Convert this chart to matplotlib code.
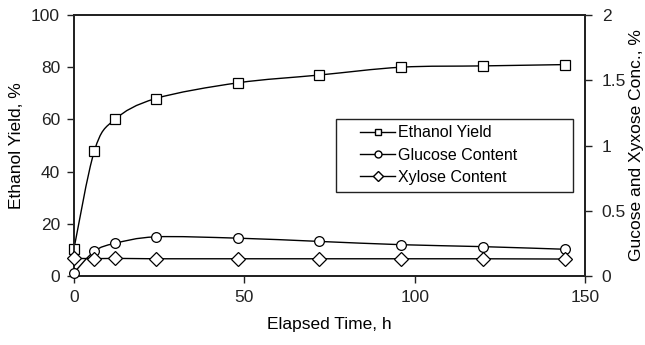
import matplotlib
matplotlib.use("Agg")
import matplotlib.pyplot as plt
import numpy as np
from matplotlib.path import Path
from matplotlib.patches import PathPatch, Rectangle
from matplotlib.lines import Line2D

plt.rcParams['font.family'] = ['Liberation Sans', 'DejaVu Sans']

hours = [0, 6, 12, 24, 48, 72, 96, 120, 144]
ethanol_yield = [10.5, 48, 60, 68, 74, 77, 80, 80.5, 81]
glucose = [0.025, 0.19, 0.25, 0.30, 0.29, 0.265, 0.24, 0.225, 0.205]
xylose = [0.135, 0.133, 0.135, 0.132, 0.132, 0.132, 0.132, 0.132, 0.13]

INK = "black"


def smooth_path(x, y, tension=1 / 6):
    """Catmull-Rom style bezier through points (like a spreadsheet 'smoothed line')."""
    x = np.asarray(x, float); y = np.asarray(y, float)
    pts = np.column_stack([x, y])
    verts = [pts[0]]
    codes = [Path.MOVETO]
    n = len(pts)
    for i in range(n - 1):
        p0 = pts[i - 1] if i > 0 else pts[i]
        p1 = pts[i]; p2 = pts[i + 1]
        p3 = pts[i + 2] if i + 2 < n else pts[i + 1]
        c1 = p1 + (p2 - p0) * tension
        c2 = p2 - (p3 - p1) * tension
        verts += [c1, c2, p2]
        codes += [Path.CURVE4] * 3
    return Path(verts, codes)


fig = plt.figure(figsize=(6.45, 3.45), dpi=100)
ax = fig.add_axes([0.1147, 0.2, 0.7923, 0.7565])
ax2 = ax.twinx()

ax.add_patch(PathPatch(smooth_path(hours, ethanol_yield), fill=False, edgecolor=INK, lw=1.0, zorder=2))
ax.plot(hours, ethanol_yield, ls="none", marker="s", ms=7, mfc="white", mec=INK, mew=0.9, zorder=3,
        clip_on=False)

ax2.add_patch(PathPatch(smooth_path(hours, glucose), fill=False, edgecolor=INK, lw=1.0, zorder=2))
ax2.plot(hours, glucose, ls="none", marker="o", ms=7, mfc="white", mec=INK, mew=0.9, zorder=3,
         clip_on=False)
ax2.plot(hours, xylose, ls="-", color=INK, lw=1.0, marker="D", ms=7, mfc="white", mec=INK, mew=0.9,
         zorder=3, clip_on=False)

ax.set_xlim(0, 150)
ax.set_ylim(0, 100)
ax2.set_ylim(0, 2)
ax.set_xticks([0, 50, 100, 150])
ax.set_yticks([0, 20, 40, 60, 80, 100])
ax2.set_yticks([0, 0.5, 1, 1.5, 2])
ax2.set_yticklabels(["0", "0.5", "1", "1.5", "2"])

for a in (ax, ax2):
    for s in a.spines.values():
        s.set_linewidth(1.3)
        s.set_color("#222222")
    a.tick_params(direction="out", length=5, width=1.0, labelsize=12.5, colors="#222222",
                  labelcolor="#222222", pad=5)
ax2.tick_params(axis="y", pad=7)

ax.set_xlabel("Elapsed Time, h", fontsize=12.5, labelpad=9)
ax.set_ylabel("Ethanol Yield, %", fontsize=12.5, labelpad=5)
ax2.set_ylabel("Gucose and Xyxose Conc., %", fontsize=12.5, labelpad=2)

# legend frame drawn separately (wide right margin, as in the source chart)
ax2.add_patch(Rectangle((0.513, 0.322), 0.464, 0.279, transform=ax2.transAxes, fill=True,
                        facecolor="white", edgecolor="#222222", lw=1.0, zorder=4))
handles = [
    Line2D([], [], color=INK, lw=1.0, marker="s", ms=5, mfc="white", mec=INK, label="Ethanol Yield"),
    Line2D([], [], color=INK, lw=1.0, marker="o", ms=5, mfc="white", mec=INK, label="Glucose Content"),
    Line2D([], [], color=INK, lw=1.0, marker="D", ms=5, mfc="white", mec=INK, label="Xylose Content"),
]
leg = ax2.legend(handles=handles, loc="upper left", bbox_to_anchor=(0.53, 0.635), fontsize=11.5,
                 frameon=False, handlelength=2.2, handletextpad=0.15, labelspacing=0.45,
                 borderpad=0.45)
leg.set_zorder(5)

fig.savefig("out.png", dpi=100)
